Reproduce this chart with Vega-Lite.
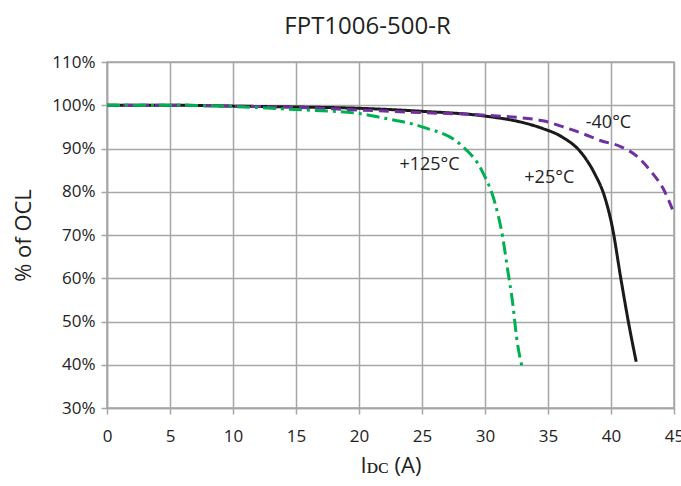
{
  "$schema": "https://vega.github.io/schema/vega-lite/v6.json",
  "autosize": "none",
  "width": 567,
  "height": 346,
  "padding": {"left": 107, "top": 62, "right": 7, "bottom": 78},
  "background": "white",
  "config": {
    "font": "Open Sans",
    "view": {"stroke": "#a6a6a6", "strokeWidth": 1.5},
    "axis": {
      "gridColor": "#a6a6a6", "gridWidth": 1.5, "gridOpacity": 1,
      "domainColor": "#a6a6a6", "domainWidth": 1.5,
      "tickColor": "#a6a6a6", "tickWidth": 1.5, "tickSize": 6,
      "labelFont": "Open Sans", "labelFontSize": 17, "labelColor": "#222222",
      "titleFont": "Open Sans", "titleFontSize": 22, "titleFontWeight": "normal", "titleColor": "#222222"
    }
  },
  "title": {
    "text": "FPT1006-500-R",
    "font": "Open Sans",
    "fontSize": 24,
    "fontWeight": "normal",
    "color": "#222222",
    "anchor": "middle",
    "dx": -23,
    "offset": 14
  },
  "datasets": {
    "curves": [
      {"series": "+25°C", "x": 0, "y": 100},
      {"series": "+25°C", "x": 5, "y": 100},
      {"series": "+25°C", "x": 10, "y": 99.8},
      {"series": "+25°C", "x": 15, "y": 99.6},
      {"series": "+25°C", "x": 20, "y": 99.3},
      {"series": "+25°C", "x": 25, "y": 98.6},
      {"series": "+25°C", "x": 30, "y": 97.5},
      {"series": "+25°C", "x": 33, "y": 96.0},
      {"series": "+25°C", "x": 34.6, "y": 94.6},
      {"series": "+25°C", "x": 36.1, "y": 92.7},
      {"series": "+25°C", "x": 37.7, "y": 88.8},
      {"series": "+25°C", "x": 38.7, "y": 84.2},
      {"series": "+25°C", "x": 39.5, "y": 78.8},
      {"series": "+25°C", "x": 40.1, "y": 71.9},
      {"series": "+25°C", "x": 40.8, "y": 59.6},
      {"series": "+25°C", "x": 41.4, "y": 49.6},
      {"series": "+25°C", "x": 42.0, "y": 40.7},
      {"series": "-40°C", "x": 0, "y": 100},
      {"series": "-40°C", "x": 5, "y": 100},
      {"series": "-40°C", "x": 10, "y": 99.8},
      {"series": "-40°C", "x": 15, "y": 99.5},
      {"series": "-40°C", "x": 20, "y": 98.9},
      {"series": "-40°C", "x": 25, "y": 98.3},
      {"series": "-40°C", "x": 30, "y": 97.7},
      {"series": "-40°C", "x": 34.6, "y": 96.4},
      {"series": "-40°C", "x": 36.1, "y": 95.1},
      {"series": "-40°C", "x": 37.7, "y": 93.5},
      {"series": "-40°C", "x": 39.2, "y": 91.8},
      {"series": "-40°C", "x": 40.8, "y": 90.4},
      {"series": "-40°C", "x": 42.1, "y": 88.1},
      {"series": "-40°C", "x": 43.2, "y": 84.6},
      {"series": "-40°C", "x": 44.2, "y": 80.4},
      {"series": "-40°C", "x": 45, "y": 75.0},
      {"series": "+125°C", "x": 0, "y": 100},
      {"series": "+125°C", "x": 5, "y": 100},
      {"series": "+125°C", "x": 10, "y": 99.7},
      {"series": "+125°C", "x": 15, "y": 99.0},
      {"series": "+125°C", "x": 20, "y": 98.1},
      {"series": "+125°C", "x": 22, "y": 97.0},
      {"series": "+125°C", "x": 25, "y": 95.0},
      {"series": "+125°C", "x": 28.1, "y": 90.8},
      {"series": "+125°C", "x": 29.8, "y": 84.6},
      {"series": "+125°C", "x": 30.8, "y": 77.3},
      {"series": "+125°C", "x": 31.4, "y": 69.6},
      {"series": "+125°C", "x": 31.8, "y": 61.9},
      {"series": "+125°C", "x": 32.2, "y": 54.2},
      {"series": "+125°C", "x": 32.5, "y": 46.5},
      {"series": "+125°C", "x": 33.0, "y": 38.8}
    ],
    "labels": [
      {"label": "+125°C", "x": 25.6, "y": 86.1},
      {"label": "+25°C", "x": 35.1, "y": 83.1},
      {"label": "-40°C", "x": 39.8, "y": 96.0}
    ]
  },
  "layer": [
    {
      "data": {"name": "curves"},
      "mark": {"type": "line", "strokeWidth": 3, "interpolate": "monotone", "clip": true},
      "encoding": {
        "x": {
          "field": "x", "type": "quantitative",
          "scale": {"domain": [0, 45], "nice": false},
          "axis": {"values": [0,5,10,15,20,25,30,35,40,45], "title": "Iᴅᴄ (A)", "labelPadding": 14, "titlePadding": 11, "labelFlush": false}
        },
        "y": {
          "field": "y", "type": "quantitative",
          "scale": {"domain": [30, 110], "nice": false},
          "axis": {"values": [30,40,50,60,70,80,90,100,110], "labelExpr": "datum.value + '%'", "title": "% of OCL", "labelPadding": 6, "titlePadding": 16}
        },
        "color": {
          "field": "series", "type": "nominal",
          "scale": {"domain": ["+25°C", "-40°C", "+125°C"], "range": ["#1a1a1a", "#7030a0", "#00b050"]},
          "legend": null
        },
        "strokeDash": {
          "field": "series", "type": "nominal",
          "scale": {"domain": ["+25°C", "-40°C", "+125°C"], "range": [[1, 0], [10, 6], [13, 5, 3, 5]]},
          "legend": null
        },
        "order": {"field": "x", "type": "quantitative"}
      }
    },
    {
      "data": {"name": "labels"},
      "mark": {"type": "text", "fontSize": 18, "font": "Open Sans", "color": "#222222"},
      "encoding": {
        "x": {"field": "x", "type": "quantitative"},
        "y": {"field": "y", "type": "quantitative"},
        "text": {"field": "label", "type": "nominal"}
      }
    }
  ]
}
